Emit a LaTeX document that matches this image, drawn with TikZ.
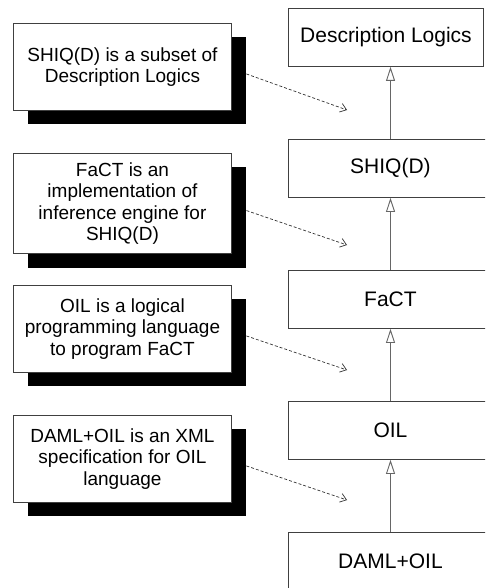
\documentclass[tikz,border=0pt]{standalone}
\usepackage{fontspec}
\setmainfont{Liberation Sans}
\usetikzlibrary{arrows.meta,shadows}
\begin{document}
\begin{tikzpicture}[x=1pt,y=-1pt,
  concept/.style={draw=black!75, line width=0.9pt, fill=white,
    minimum width=204pt, minimum height=58pt, inner sep=0pt,
    font=\fontsize{21}{24}\selectfont, anchor=north west},
  note/.style={draw=black!75, line width=0.9pt, fill=white,
    minimum width=218pt, minimum height=87pt, inner xsep=4pt, inner ysep=9pt,
    align=center, font=\fontsize{19}{21.5}\selectfont, anchor=north west,
    drop shadow={shadow xshift=14.5pt, shadow yshift=-14pt, fill=black, opacity=1}},
  gen/.style={draw=black!60, line width=0.9pt,
    -{Triangle[open, length=14pt, width=9pt]}},
  hint/.style={draw=black!80, line width=0.7pt, dash pattern=on 3pt off 2pt,
    -{Straight Barb[length=6pt, width=9pt]}}
]
\useasboundingbox (0,0) rectangle (485,588);
\clip (0,0) rectangle (485,588);
\fill[white] (0,0) rectangle (485,588);

% concept chain
\node[concept, minimum width=195pt] (c1) at (288,8)   {Description Logics};
\node[concept] (c2) at (288,139) {SHIQ(D)};
\node[concept] (c3) at (288,270) {FaCT};
\node[concept] (c4) at (288,401) {OIL};
\node[concept] (c5) at (288,532) {DAML+OIL};

\coordinate (col) at (390.5,0);
\draw[gen] (c2.north -| col) -- (c1.south -| col);
\draw[gen] (c3.north -| col) -- (c2.south -| col);
\draw[gen] (c4.north -| col) -- (c3.south -| col);
\draw[gen] (c5.north -| col) -- (c4.south -| col);

% explanatory notes
\node[note] (n1) at (13,23)  {SHIQ(D) is a subset of\\Description Logics};
\node[note] (n2) at (13,153) {FaCT is an\\implementation of\\inference engine for\\SHIQ(D)};
\node[note] (n3) at (13,285) {OIL is a logical\\programming language\\to program FaCT};
\node[note] (n4) at (13,415) {DAML+OIL is an XML\\specification for OIL\\language};

\coordinate (e1) at (347,110);
\coordinate (e2) at (347,245);
\coordinate (e3) at (347,370);
\coordinate (e4) at (347,500);

\draw[hint] ([xshift=14.5pt,yshift=-7pt]n1.east) -- (e1);
\draw[hint] ([xshift=14.5pt,yshift=-7pt]n2.east) -- (e2);
\draw[hint] ([xshift=14.5pt,yshift=-7pt]n3.east) -- (e3);
\draw[hint] ([xshift=14.5pt,yshift=-7pt]n4.east) -- (e4);
\end{tikzpicture}
\end{document}
